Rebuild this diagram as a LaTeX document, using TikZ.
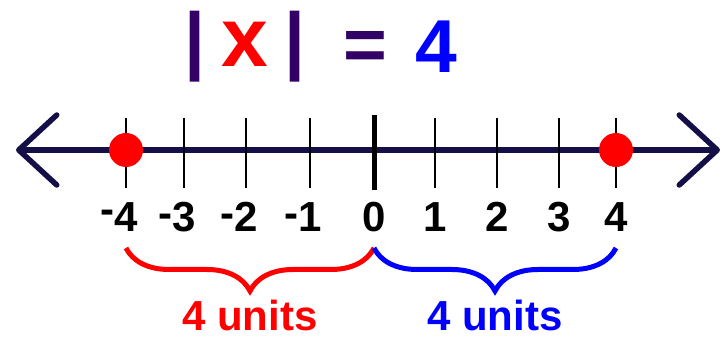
\documentclass[tikz,border=0pt]{standalone}
\usepackage{fontspec}
\setmainfont{Liberation Sans}
\usetikzlibrary{arrows.meta, decorations.pathreplacing, positioning}
\definecolor{axisnavy}{RGB}{20,15,70}
\definecolor{titlepurple}{RGB}{51,0,102}

\begin{document}
\begin{tikzpicture}[
	x=1pt, y=-1pt,
	every node/.style={inner sep=0pt},
	titlepart/.style={font=\fontsize{75}{75}\selectfont\bfseries, anchor=base, text=titlepurple},
	numlabel/.style={font=\fontsize{42}{42}\selectfont\bfseries, anchor=base},
	unitlabel/.style={font=\fontsize{42}{42}\selectfont\bfseries},
	axisline/.style={draw=axisnavy, line width=5.5pt, {Straight Barb[length=38pt,width=70pt,round]}-{Straight Barb[length=38pt,width=70pt,round]}},
	tickline/.style={draw=black, line width=2pt},
	dot/.style={circle, fill=red, minimum size=34pt},
	bracket/.style={decorate, decoration={brace, mirror, amplitude=43pt}, line width=5pt}
]
\useasboundingbox (0,0) rectangle (724,339);

% Title |x| = 4
\node[titlepart] (lbar) at (195,66) {|};
\node[titlepart, text=red, font=\fontsize{84}{84}\selectfont\bfseries] (xvar) at (245,67) {x};
\node[titlepart] (rbar) at (295,66) {|};
\node[titlepart] (eqsign) at (365,71) {=};
\node[titlepart, text=blue] (four) at (436,73) {4};

% Number line
\coordinate (leftend) at (16,150);
\coordinate (rightend) at (720,150);
\draw[axisline] (leftend) -- (rightend);

\foreach \n/\xp/\lab in {m4/126/{\llap{\raisebox{0.2em}{-}}4}, m3/184/{\llap{\raisebox{0.1em}{-}}3}, m2/246/{\llap{\raisebox{0.1em}{-}}2}, m1/310/{\llap{\raisebox{0.1em}{-}}1}, p1/435/1, p2/497/2, p3/559/3, p4/616/4} {
	\coordinate (t\n) at (\xp,150);
	\draw[tickline] ([yshift=32pt]t\n) -- ([yshift=-38pt]t\n);
	\node[numlabel] (n\n) at (\xp,232) {\lab};
}
\coordinate (t0) at (374,150);
\draw[draw=black, line width=5pt] ([yshift=35pt]t0) -- ([yshift=-40pt]t0);
\node[numlabel] (n0) at (374,232) {0};

% Solutions
\node[dot] (solneg) at (tm4) {};
\node[dot] (solpos) at (tp4) {};

% Distances
\draw[bracket, draw=red] ([yshift=-98pt]tm4) -- ([yshift=-98pt]t0)
	node[midway, below=50pt, unitlabel, text=red] (leftunits) {4 units};
\draw[bracket, draw=blue] ([yshift=-98pt]t0) -- ([yshift=-98pt]tp4)
	node[midway, below=50pt, unitlabel, text=blue] (rightunits) {4 units};

\end{tikzpicture}
\end{document}
